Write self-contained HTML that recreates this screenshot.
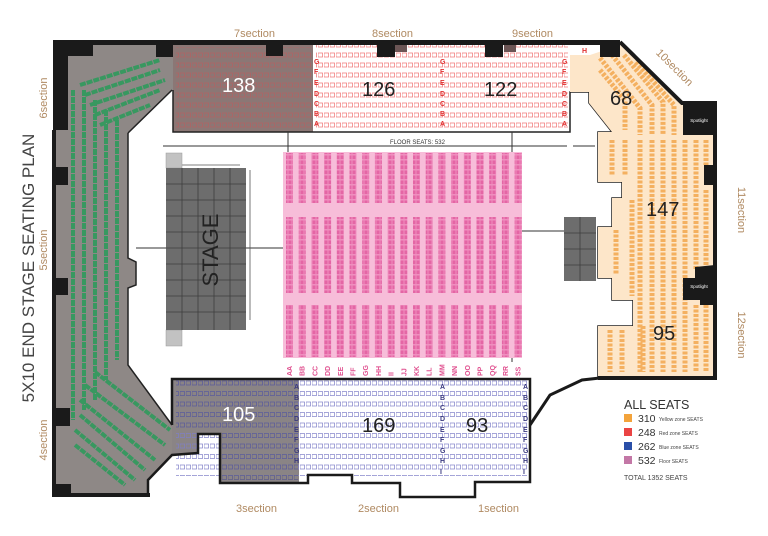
<!DOCTYPE html>
<html><head><meta charset="utf-8"><style>
html,body{margin:0;padding:0;background:#fff;width:768px;height:536px;overflow:hidden}
svg{display:block}
text{font-family:"Liberation Sans",sans-serif}
</style></head><body>
<svg width="768" height="536" viewBox="0 0 768 536" xmlns="http://www.w3.org/2000/svg">
<defs>
<pattern id="pk" width="4" height="5" patternUnits="userSpaceOnUse"><rect width="4" height="5" fill="#ef8fbf"/><rect x="0.5" y="0.5" width="3" height="3.5" fill="#e466a5"/></pattern>
<pattern id="rd" width="6" height="10" patternUnits="userSpaceOnUse"><rect x="0" y="3" width="4.5" height="4" fill="none" stroke="#f07070" stroke-width="0.7"/></pattern>
<pattern id="rd2" width="6" height="10" patternUnits="userSpaceOnUse"><rect x="0" y="3" width="4.5" height="4" fill="none" stroke="#b56060" stroke-width="0.7"/></pattern>
<pattern id="bl" width="6" height="10.5" patternUnits="userSpaceOnUse"><rect x="0" y="3" width="4.5" height="4" fill="none" stroke="#7f7fc8" stroke-width="0.7"/></pattern>
<pattern id="bl2" width="6" height="10.5" patternUnits="userSpaceOnUse"><rect x="0" y="3" width="4.5" height="4" fill="none" stroke="#5a5a8a" stroke-width="0.7"/></pattern>
</defs>

<!-- left green section -->
<polygon points="56,45 173,45 173,90 128,133 128,258 136,262 136,285 128,288 128,365 172,425 172,455 148,480 148,494 56,494" fill="#8e8886"/>
<g stroke="#2f9a5c" stroke-width="4" stroke-dasharray="6 1" fill="none" opacity="0.9">
<line x1="73" y1="90" x2="73" y2="420"/>
<line x1="84" y1="90" x2="84" y2="410"/>
<line x1="95" y1="100" x2="95" y2="400"/>
<line x1="106" y1="110" x2="106" y2="380"/>
<line x1="117" y1="120" x2="117" y2="360"/>
<line x1="80" y1="85" x2="160" y2="60"/>
<line x1="85" y1="95" x2="160" y2="70"/>
<line x1="90" y1="105" x2="165" y2="80"/>
<line x1="95" y1="115" x2="160" y2="90"/>
<line x1="100" y1="125" x2="150" y2="105"/>
<line x1="80" y1="400" x2="155" y2="460"/>
<line x1="80" y1="415" x2="145" y2="470"/>
<line x1="75" y1="430" x2="135" y2="480"/>
<line x1="75" y1="445" x2="125" y2="485"/>
<line x1="85" y1="385" x2="165" y2="445"/>
<line x1="95" y1="372" x2="170" y2="430"/>
</g>
<!-- left wall -->
<path d="M54,130 L54,495 L150,495" stroke="#1a1a1a" stroke-width="4" fill="none"/>
<rect x="53" y="40" width="15" height="90" fill="#1a1a1a"/>
<rect x="53" y="167" width="15" height="18" fill="#1a1a1a"/>
<rect x="53" y="278" width="15" height="17" fill="#1a1a1a"/>
<rect x="53" y="408" width="17" height="18" fill="#1a1a1a"/>
<rect x="53" y="484" width="18" height="12" fill="#1a1a1a"/>
<path d="M128,133 L128,258 L136,262 L136,285 L128,288 L128,365 L172,425" stroke="#222" stroke-width="1.5" fill="none"/>
<path d="M172,90 L128,133" stroke="#222" stroke-width="1.5"/>

<!-- 138 block -->
<rect x="173" y="45" width="140" height="87" fill="#8b7775"/>
<rect x="176" y="47" width="135" height="82" fill="url(#rd2)"/>
<!-- red block -->
<rect x="313" y="45" width="257" height="87" fill="#fff"/>
<rect x="316" y="44" width="252" height="84" fill="url(#rd)"/>
<g fill="#e03030" font-size="7" font-weight="bold">
<text x="314" y="64">G</text><text x="314" y="74">F</text><text x="314" y="85">E</text><text x="314" y="96">D</text><text x="314" y="106">C</text><text x="314" y="116">B</text><text x="314" y="126">A</text>
<text x="440" y="64">G</text><text x="440" y="74">F</text><text x="440" y="85">E</text><text x="440" y="96">D</text><text x="440" y="106">C</text><text x="440" y="116">B</text><text x="440" y="126">A</text>
<text x="562" y="64">G</text><text x="562" y="74">F</text><text x="562" y="85">E</text><text x="562" y="96">D</text><text x="562" y="106">C</text><text x="562" y="116">B</text><text x="562" y="126">A</text><text x="582" y="53">H</text>
</g>
<path d="M173,90 L173,132 L570,132 L570,92 L589,92 L589,103 L612,132 L598,132 L598,182 L622,182 L622,198 L612,198 L612,227 L598,227 L598,278 L612,278 L612,300 L633,300 L633,326 L598,326 L598,378" stroke="#222" stroke-width="1.5" fill="none"/>

<!-- yellow area -->
<polygon points="590,55 620,45 683,103 715,103 715,378 598,378 598,326 633,326 633,300 612,300 612,278 598,278 598,227 612,227 612,198 622,198 622,182 598,182 598,132 612,132 589,103 589,92 570,92 570,55" fill="#fde6c9"/>
<g stroke="#f4b060" stroke-width="5" stroke-dasharray="3 1.5" fill="none">
<path d="M612,140 L612,175"/><path d="M625,140 L625,175"/><path d="M632,200 L632,296"/><path d="M616,230 L616,275"/>
<path d="M640,140 L640,372"/><path d="M652,140 L652,372"/><path d="M663,140 L663,372"/><path d="M674,140 L674,372"/>
<path d="M685,140 L685,372"/><path d="M696,140 L696,270"/><path d="M706,140 L706,165"/><path d="M706,190 L706,265"/>
<path d="M696,305 L696,372"/><path d="M706,305 L706,372"/><path d="M643,326 L643,372"/><path d="M622,330 L622,372"/><path d="M610,330 L610,372"/>
<path d="M600,58 L640,108 L640,135"/><path d="M612,55 L652,105 L652,135"/><path d="M624,55 L663,102 L663,135"/><path d="M636,62 L674,105 L674,135"/><path d="M600,70 L625,100 L625,130"/>
</g>
<!-- right wall -->
<path d="M620,42 L682,103 L715,103 L715,378 L598,378" stroke="#1a1a1a" stroke-width="4" fill="none"/>
<rect x="683" y="103" width="32" height="32" fill="#1a1a1a"/>
<text x="699" y="122" font-size="4.5" fill="#fff" text-anchor="middle">Spotlight</text>
<rect x="704" y="165" width="11" height="20" fill="#1a1a1a"/>
<polygon points="695,267 715,265 715,305 700,305 700,300 683,300 683,278 695,278" fill="#1a1a1a"/>
<text x="699" y="288" font-size="4.5" fill="#fff" text-anchor="middle">Spotlight</text>

<!-- top wall -->
<rect x="53" y="40" width="567" height="5" fill="#1a1a1a"/>
<rect x="53" y="40" width="40" height="16" fill="#1a1a1a"/>
<rect x="156" y="40" width="17" height="17" fill="#1a1a1a"/>
<rect x="266" y="40" width="17" height="16" fill="#1a1a1a"/>
<rect x="377" y="40" width="18" height="17" fill="#1a1a1a"/>
<rect x="395" y="45" width="12" height="7" fill="#6b5555"/>
<rect x="485" y="40" width="18" height="17" fill="#1a1a1a"/>
<rect x="504" y="45" width="12" height="7" fill="#6b5555"/>
<rect x="600" y="40" width="20" height="17" fill="#1a1a1a"/>

<!-- dimension lines -->
<line x1="163" y1="146" x2="567" y2="146" stroke="#333" stroke-width="1"/>
<line x1="573" y1="146" x2="595" y2="146" stroke="#333" stroke-width="1"/>
<line x1="288" y1="132" x2="288" y2="152" stroke="#333"/>
<line x1="512" y1="132" x2="512" y2="362" stroke="#333"/>
<text x="390" y="144" font-size="6" fill="#333">FLOOR SEATS: 532</text>
<line x1="136" y1="248" x2="166" y2="248" stroke="#333"/>
<line x1="246" y1="248" x2="284" y2="248" stroke="#333"/>
<line x1="522" y1="231" x2="564" y2="231" stroke="#333"/>
<line x1="180" y1="165" x2="240" y2="165" stroke="#555" stroke-width="0.8"/>
<line x1="250" y1="170" x2="250" y2="320" stroke="#555" stroke-width="0.8"/>

<!-- pink floor -->
<rect x="283" y="152" width="239" height="206" fill="#f7bdd9"/>
<g fill="url(#pk)">
<rect x="286" y="153" width="7" height="50"/><rect x="298.7" y="153" width="7" height="50"/><rect x="311.4" y="153" width="7" height="50"/><rect x="324.1" y="153" width="7" height="50"/><rect x="336.8" y="153" width="7" height="50"/><rect x="349.5" y="153" width="7" height="50"/><rect x="362.2" y="153" width="7" height="50"/><rect x="374.9" y="153" width="7" height="50"/><rect x="387.6" y="153" width="7" height="50"/><rect x="400.3" y="153" width="7" height="50"/><rect x="413" y="153" width="7" height="50"/><rect x="425.7" y="153" width="7" height="50"/><rect x="438.4" y="153" width="7" height="50"/><rect x="451.1" y="153" width="7" height="50"/><rect x="463.8" y="153" width="7" height="50"/><rect x="476.5" y="153" width="7" height="50"/><rect x="489.2" y="153" width="7" height="50"/><rect x="501.9" y="153" width="7" height="50"/><rect x="514.6" y="153" width="7" height="50"/>
<rect x="286" y="217" width="7" height="76"/><rect x="298.7" y="217" width="7" height="76"/><rect x="311.4" y="217" width="7" height="76"/><rect x="324.1" y="217" width="7" height="76"/><rect x="336.8" y="217" width="7" height="76"/><rect x="349.5" y="217" width="7" height="76"/><rect x="362.2" y="217" width="7" height="76"/><rect x="374.9" y="217" width="7" height="76"/><rect x="387.6" y="217" width="7" height="76"/><rect x="400.3" y="217" width="7" height="76"/><rect x="413" y="217" width="7" height="76"/><rect x="425.7" y="217" width="7" height="76"/><rect x="438.4" y="217" width="7" height="76"/><rect x="451.1" y="217" width="7" height="76"/><rect x="463.8" y="217" width="7" height="76"/><rect x="476.5" y="217" width="7" height="76"/><rect x="489.2" y="217" width="7" height="76"/><rect x="501.9" y="217" width="7" height="76"/><rect x="514.6" y="217" width="7" height="76"/>
<rect x="286" y="305" width="7" height="52"/><rect x="298.7" y="305" width="7" height="52"/><rect x="311.4" y="305" width="7" height="52"/><rect x="324.1" y="305" width="7" height="52"/><rect x="336.8" y="305" width="7" height="52"/><rect x="349.5" y="305" width="7" height="52"/><rect x="362.2" y="305" width="7" height="52"/><rect x="374.9" y="305" width="7" height="52"/><rect x="387.6" y="305" width="7" height="52"/><rect x="400.3" y="305" width="7" height="52"/><rect x="413" y="305" width="7" height="52"/><rect x="425.7" y="305" width="7" height="52"/><rect x="438.4" y="305" width="7" height="52"/><rect x="451.1" y="305" width="7" height="52"/><rect x="463.8" y="305" width="7" height="52"/><rect x="476.5" y="305" width="7" height="52"/><rect x="489.2" y="305" width="7" height="52"/><rect x="501.9" y="305" width="7" height="52"/><rect x="514.6" y="305" width="7" height="52"/>
</g>
<g fill="#e0508f" font-size="7" font-weight="bold">
<text transform="translate(292,376) rotate(-90)">AA</text><text transform="translate(304.7,376) rotate(-90)">BB</text><text transform="translate(317.4,376) rotate(-90)">CC</text><text transform="translate(330.1,376) rotate(-90)">DD</text><text transform="translate(342.8,376) rotate(-90)">EE</text><text transform="translate(355.5,376) rotate(-90)">FF</text><text transform="translate(368.2,376) rotate(-90)">GG</text><text transform="translate(380.9,376) rotate(-90)">HH</text><text transform="translate(393.6,376) rotate(-90)">II</text><text transform="translate(406.3,376) rotate(-90)">JJ</text><text transform="translate(419,376) rotate(-90)">KK</text><text transform="translate(431.7,376) rotate(-90)">LL</text><text transform="translate(444.4,376) rotate(-90)">MM</text><text transform="translate(457.1,376) rotate(-90)">NN</text><text transform="translate(469.8,376) rotate(-90)">OO</text><text transform="translate(482.5,376) rotate(-90)">PP</text><text transform="translate(495.2,376) rotate(-90)">QQ</text><text transform="translate(507.9,376) rotate(-90)">RR</text><text transform="translate(520.6,376) rotate(-90)">SS</text>
</g>

<!-- stage -->
<rect x="166" y="153" width="16" height="15" fill="#c2c2c2" stroke="#999" stroke-width="0.5"/>
<rect x="166" y="330" width="16" height="16" fill="#c2c2c2" stroke="#999" stroke-width="0.5"/>
<rect x="166" y="168" width="80" height="162" fill="#6d6d6d"/>
<g stroke="#3e3e3e" stroke-width="0.8">
<line x1="182" y1="168" x2="182" y2="330"/><line x1="198" y1="168" x2="198" y2="330"/><line x1="214" y1="168" x2="214" y2="330"/><line x1="230" y1="168" x2="230" y2="330"/>
<line x1="166" y1="184" x2="246" y2="184"/><line x1="166" y1="200" x2="246" y2="200"/><line x1="166" y1="216" x2="246" y2="216"/><line x1="166" y1="232" x2="246" y2="232"/><line x1="166" y1="248" x2="246" y2="248"/><line x1="166" y1="264" x2="246" y2="264"/><line x1="166" y1="280" x2="246" y2="280"/><line x1="166" y1="296" x2="246" y2="296"/><line x1="166" y1="312" x2="246" y2="312"/>
</g>
<text transform="translate(218,250) rotate(-90)" font-size="22" fill="#222" text-anchor="middle">STAGE</text>
<!-- right small stage -->
<rect x="564" y="217" width="32" height="64" fill="#6d6d6d"/>
<g stroke="#3e3e3e" stroke-width="0.8"><line x1="580" y1="217" x2="580" y2="281"/><line x1="564" y1="233" x2="596" y2="233"/><line x1="564" y1="249" x2="596" y2="249"/><line x1="564" y1="265" x2="596" y2="265"/></g>

<!-- bottom blocks -->
<polygon points="172,379 530,379 530,482 475,482 475,497 400,497 400,483 352,483 352,475 308,475 308,483 220,483 220,434 198,434 198,453 172,455" fill="#fff"/>
<polygon points="172,379 299,379 299,483 220,483 220,434 198,434 198,453 172,455" fill="#8a8485"/>
<rect x="176" y="380" width="352" height="96" fill="url(#bl)"/>
<rect x="176" y="380" width="122" height="50" fill="url(#bl2)"/>
<rect x="222" y="430" width="76" height="50" fill="url(#bl2)"/>
<g fill="#3a3a80" font-size="7" font-weight="bold">
<text x="294" y="389">A</text><text x="294" y="400">B</text><text x="294" y="410">C</text><text x="294" y="421">D</text><text x="294" y="432">E</text><text x="294" y="442">F</text><text x="294" y="453">G</text><text x="294" y="463">H</text>
<text x="440" y="389">A</text><text x="440" y="400">B</text><text x="440" y="410">C</text><text x="440" y="421">D</text><text x="440" y="432">E</text><text x="440" y="442">F</text><text x="440" y="453">G</text><text x="440" y="463">H</text><text x="440" y="474">I</text>
<text x="523" y="389">A</text><text x="523" y="400">B</text><text x="523" y="410">C</text><text x="523" y="421">D</text><text x="523" y="432">E</text><text x="523" y="442">F</text><text x="523" y="453">G</text><text x="523" y="463">H</text><text x="523" y="474">I</text>
</g>
<path d="M172,425 L172,379 L530,379 L530,482 L475,482 L475,497 L400,497 L400,483 L352,483 L352,475 L308,475 L308,483 L220,483 L220,434 L198,434 L198,453 L172,455 L148,480 L148,495" stroke="#1a1a1a" stroke-width="2.5" fill="none"/>
<path d="M530,425 L550,395 L582,380 L600,378" stroke="#1a1a1a" stroke-width="3" fill="none"/>

<!-- numbers -->
<g font-size="20" fill="#222">
<text x="222" y="92" fill="#fff">138</text>
<text x="362" y="96">126</text>
<text x="484" y="96">122</text>
<text x="610" y="105">68</text>
<text x="646" y="216">147</text>
<text x="653" y="340">95</text>
<text x="222" y="421" fill="#fff">105</text>
<text x="362" y="432">169</text>
<text x="466" y="432">93</text>
</g>

<!-- section labels -->
<g font-size="11" fill="#b08a62">
<text x="234" y="37">7section</text>
<text x="372" y="37">8section</text>
<text x="512" y="37">9section</text>
<text x="236" y="512">3section</text>
<text x="358" y="512">2section</text>
<text x="478" y="512">1section</text>
<text transform="translate(47,98) rotate(-90)" text-anchor="middle">6section</text>
<text transform="translate(47,250) rotate(-90)" text-anchor="middle">5section</text>
<text transform="translate(47,440) rotate(-90)" text-anchor="middle">4section</text>
<text transform="translate(738,210) rotate(90)" text-anchor="middle">11section</text>
<text transform="translate(738,335) rotate(90)" text-anchor="middle">12section</text>
<text transform="translate(672,70) rotate(45)" text-anchor="middle">10section</text>
</g>
<text transform="translate(34,268) rotate(-90)" font-size="17" fill="#444" text-anchor="middle">5X10 END STAGE SEATING PLAN</text>

<!-- legend -->
<text x="624" y="409" font-size="12.5" fill="#333">ALL SEATS</text>
<rect x="624" y="414" width="8" height="8" fill="#f3a33b"/>
<rect x="624" y="428" width="8" height="8" fill="#ea4444"/>
<rect x="624" y="442" width="8" height="8" fill="#2a4fa8"/>
<rect x="624" y="456" width="8" height="8" fill="#c377a6"/>
<g font-size="10.5" fill="#333">
<text x="638" y="422">310</text><text x="638" y="436">248</text><text x="638" y="450">262</text><text x="638" y="464">532</text>
</g>
<g font-size="5" fill="#444">
<text x="659" y="421">Yellow zone SEATS</text><text x="659" y="435">Red zone SEATS</text><text x="659" y="449">Blue zone SEATS</text><text x="659" y="463">Floor SEATS</text>
</g>
<text x="624" y="480" font-size="7" fill="#444">TOTAL 1352 SEATS</text>
</svg>
</body></html>
